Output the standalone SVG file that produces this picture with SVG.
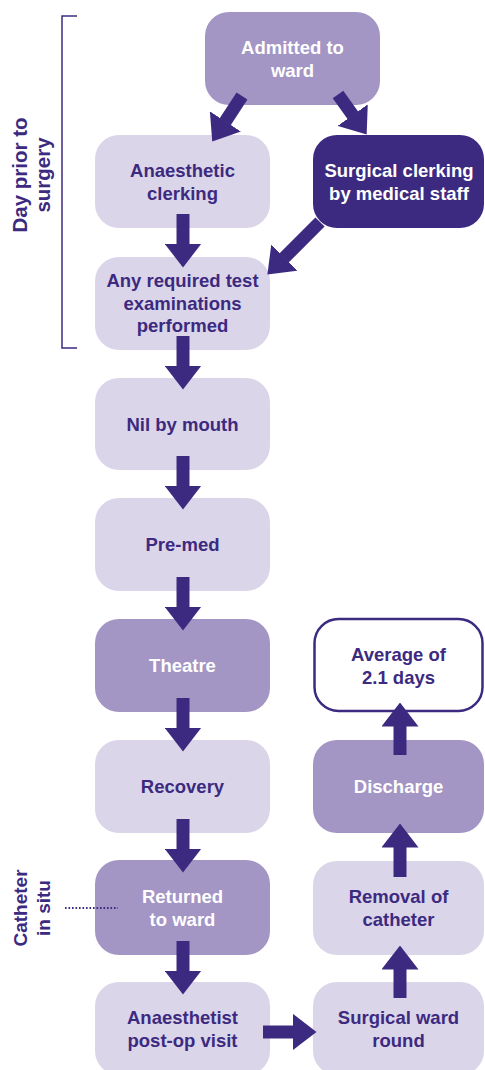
<svg xmlns="http://www.w3.org/2000/svg" width="485" height="1070" viewBox="0 0 485 1070">
<style>
.light{fill:#dbd5e9}
.mid{fill:#a395c4}
.dark{fill:#3c2a80}
.open{fill:#ffffff;stroke:#3c2a80;stroke-width:2.5}
text{font-family:"Liberation Sans",Arial,sans-serif;font-weight:bold;font-size:18.5px;text-anchor:middle}
.t{fill:#3c2a80}
.w{fill:#ffffff}
.side{font-size:20.5px}
.side2{font-size:19px}
.arr{stroke:#3c2a80;stroke-width:13;fill:none;marker-end:url(#head)}
</style>
<defs>
<marker id="head" markerUnits="userSpaceOnUse" markerWidth="24" markerHeight="37" viewBox="0 0 24 37" refX="0.5" refY="18.5" orient="auto">
<path d="M0,0 L24,18.5 L0,37 Z" fill="#3c2a80"/>
</marker>
</defs>
<rect width="485" height="1070" fill="#ffffff"/>
<g id="bracket">
<path d="M77,16 H62 V348 H77" fill="none" stroke="#3c2a80" stroke-width="1.5"/>
<text class="t side" transform="translate(27,175) rotate(-90)">Day prior to</text>
<text class="t side" transform="translate(50,175) rotate(-90)">surgery</text>
</g>
<g id="n-admitted"><rect class="mid" x="205" y="12" width="175" height="93" rx="24"/>
<text class="w" x="292.5" y="53.6">Admitted to</text><text class="w" x="292.5" y="76.6">ward</text></g>
<g id="n-anaesthetic"><rect class="light" x="95" y="135" width="175" height="93" rx="24"/>
<text class="t" x="182.5" y="176.6">Anaesthetic</text><text class="t" x="182.5" y="199.6">clerking</text></g>
<g id="n-surgical"><rect class="dark" x="313" y="135" width="171" height="93" rx="24"/>
<text class="w" x="399" y="176.6">Surgical clerking</text><text class="w" x="399" y="199.6">by medical staff</text></g>
<g id="n-tests"><rect class="light" x="95" y="257" width="175" height="93" rx="24"/>
<text class="t" x="182.5" y="287">Any required test</text><text class="t" x="182.5" y="309.5">examinations</text><text class="t" x="182.5" y="332">performed</text></g>
<g id="n-nil"><rect class="light" x="95" y="378" width="175" height="92" rx="24"/>
<text class="t" x="182.5" y="430.5">Nil by mouth</text></g>
<g id="n-premed"><rect class="light" x="95" y="498" width="175" height="93" rx="24"/>
<text class="t" x="182.5" y="551">Pre-med</text></g>
<g id="n-theatre"><rect class="mid" x="95" y="619" width="175" height="93" rx="24"/>
<text class="w" x="182.5" y="672">Theatre</text></g>
<g id="n-recovery"><rect class="light" x="95" y="740" width="175" height="93" rx="24"/>
<text class="t" x="182.5" y="793">Recovery</text></g>
<g id="n-returned"><rect class="mid" x="95" y="860" width="175" height="95" rx="24"/>
<text class="w" x="182.5" y="902.6">Returned</text><text class="w" x="182.5" y="925.6">to ward</text></g>
<g id="n-anaesthetist"><rect class="light" x="95" y="982" width="175" height="93" rx="24"/>
<text class="t" x="182.5" y="1023.6">Anaesthetist</text><text class="t" x="182.5" y="1046.6">post-op visit</text></g>
<g id="n-average"><rect class="open" x="314.5" y="619" width="168" height="92" rx="24"/>
<text class="t" x="398.5" y="660.6">Average of</text><text class="t" x="398.5" y="683.6">2.1 days</text></g>
<g id="n-discharge"><rect class="mid" x="313" y="740" width="171" height="93" rx="24"/>
<text class="w" x="398.5" y="793">Discharge</text></g>
<g id="n-removal"><rect class="light" x="313" y="861" width="171" height="94" rx="24"/>
<text class="t" x="398.5" y="902.6">Removal of</text><text class="t" x="398.5" y="925.6">catheter</text></g>
<g id="n-wardround"><rect class="light" x="313" y="982" width="171" height="93" rx="24"/>
<text class="t" x="398.5" y="1023.6">Surgical ward</text><text class="t" x="398.5" y="1046.6">round</text></g>
<g id="catheter-note">
<text class="t side2" transform="translate(27,908) rotate(-90)">Catheter</text>
<text class="t side2" transform="translate(50,908) rotate(-90)">in situ</text>
<line x1="65" y1="908" x2="118" y2="908" stroke="#3c2a80" stroke-width="2" stroke-dasharray="1.6 1.9"/>
</g>
<g id="connectors">
<line class="arr" x1="242" y1="96" x2="225.1" y2="121.9"/>
<line class="arr" x1="338" y1="94.5" x2="353" y2="115.5"/>
<line class="arr" x1="320" y1="222" x2="284" y2="258"/>
<line class="arr" x1="183" y1="214" x2="183" y2="244"/>
<line class="arr" x1="183" y1="336" x2="183" y2="366"/>
<line class="arr" x1="183" y1="456" x2="183" y2="486"/>
<line class="arr" x1="183" y1="577" x2="183" y2="607"/>
<line class="arr" x1="183" y1="698" x2="183" y2="728"/>
<line class="arr" x1="183" y1="819" x2="183" y2="849"/>
<line class="arr" x1="183" y1="941" x2="183" y2="971"/>
<line class="arr" x1="263" y1="1032" x2="293" y2="1032"/>
<line class="arr" x1="400" y1="998" x2="400" y2="969"/>
<line class="arr" x1="400" y1="877" x2="400" y2="847"/>
<line class="arr" x1="400" y1="755" x2="400" y2="726"/>
</g>
</svg>
